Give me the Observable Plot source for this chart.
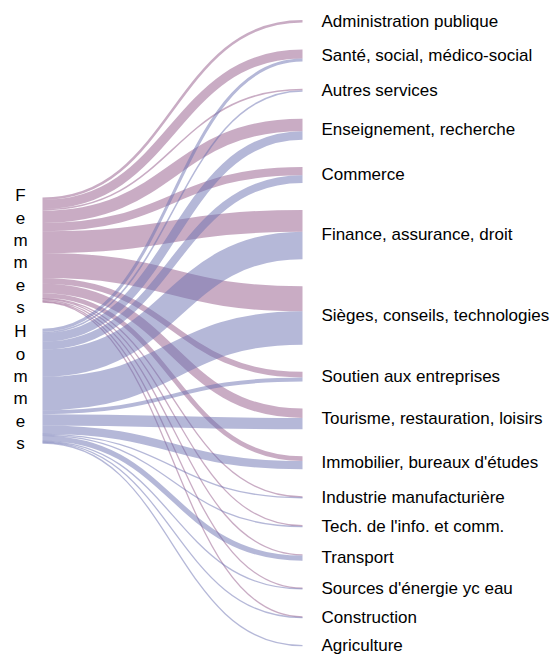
<!DOCTYPE html>
<html>
<head>
<meta charset="utf-8">
<script src="https://cdn.jsdelivr.net/npm/d3@7"></script>
<script src="https://cdn.jsdelivr.net/npm/@observablehq/plot@0.6"></script>
<style>
  body { margin: 0; background: #fff; }
  #chart svg { display: block; }
</style>
</head>
<body>
<div id="chart"></div>
<script>
// ---- data ----
const categories = [
  "Administration publique",
  "Santé, social, médico-social",
  "Autres services",
  "Enseignement, recherche",
  "Commerce",
  "Finance, assurance, droit",
  "Sièges, conseils, technologies",
  "Soutien aux entreprises",
  "Tourisme, restauration, loisirs",
  "Immobilier, bureaux d'études",
  "Industrie manufacturière",
  "Tech. de l'info. et comm.",
  "Transport",
  "Sources d'énergie yc eau",
  "Construction",
  "Agriculture"
];
const sources = ["Femmes", "Hommes"];
const femmes = [2.5, 9, 1.5, 12.4, 8.3, 21.7, 25, 5.7, 9.3, 4.7, 0.9, 0.9, 1.3, 0.8, 0.8, 0];
const hommes = [0, 3, 1.5, 8.6, 7.7, 27.3, 33.3, 4, 11.3, 8.3, 0.9, 0.9, 5.2, 0.8, 0.8, 0.9];
const colors = ["#93598a", "#6b71b2"];

// ---- layout (sankey-like) ----
const nodePadding = 27;   // units between target nodes
const sourceGap = 26;     // units between source nodes
const sourceTop = 177;    // units, top of first source node
const series = [femmes, hommes];

let acc = 0;
const targets = categories.map((name, i) => {
  const v = femmes[i] + hommes[i];
  const n = {name, y0: acc, y1: acc + v, xpos: 1};
  acc += v + nodePadding;
  return n;
});
const total = acc - nodePadding;

let sacc = sourceTop;
const srcNodes = sources.map((name, k) => {
  const v = d3.sum(series[k]);
  const n = {name, y0: sacc, y1: sacc + v, xpos: 0};
  sacc += v + sourceGap;
  return n;
});

const tgtOffset = targets.map(t => t.y0);
const links = [];
sources.forEach((s, k) => {
  let off = srcNodes[k].y0;
  categories.forEach((c, i) => {
    const v = series[k][i];
    if (!v) return;
    links.push({source: s, target: c, value: v, xs: 0, xt: 1, ys: off + v / 2, yt: tgtOffset[i] + v / 2});
    off += v;
    tgtOffset[i] += v;
  });
});

const yRange = [19.5, 645.5];
const ky = (yRange[1] - yRange[0]) / total;

const chart = Plot.plot({
  width: 553,
  height: 654,
  margin: 0,
  style: {fontFamily: "'Liberation Sans', Arial, sans-serif", background: "#fff"},
  x: {domain: [0, 1], range: [42, 302], axis: null},
  y: {domain: [0, total], range: yRange, axis: null},
  color: {domain: sources, range: colors},
  marks: [
    Plot.link(links, {
      x1: "xs", x2: "xt", y1: "ys", y2: "yt",
      curve: "bump-x",
      stroke: "source",
      strokeWidth: d => Math.max(1.3, d.value * ky),
      strokeOpacity: 0.5
    }),
    Plot.text(targets, {
      x: "xpos",
      y: d => (d.y0 + d.y1) / 2,
      text: "name",
      dx: 19,
      textAnchor: "start",
      fontSize: 17,
      fill: "#000"
    }),
    Plot.text(srcNodes, {
      x: "xpos",
      y: d => (d.y0 + d.y1) / 2,
      text: d => d.name.split("").join("\n"),
      dx: -22,
      textAnchor: "middle",
      lineHeight: 1.32,
      fontSize: 17,
      fill: "#000"
    })
  ]
});
document.getElementById("chart").appendChild(chart);
</script>
</body>
</html>
